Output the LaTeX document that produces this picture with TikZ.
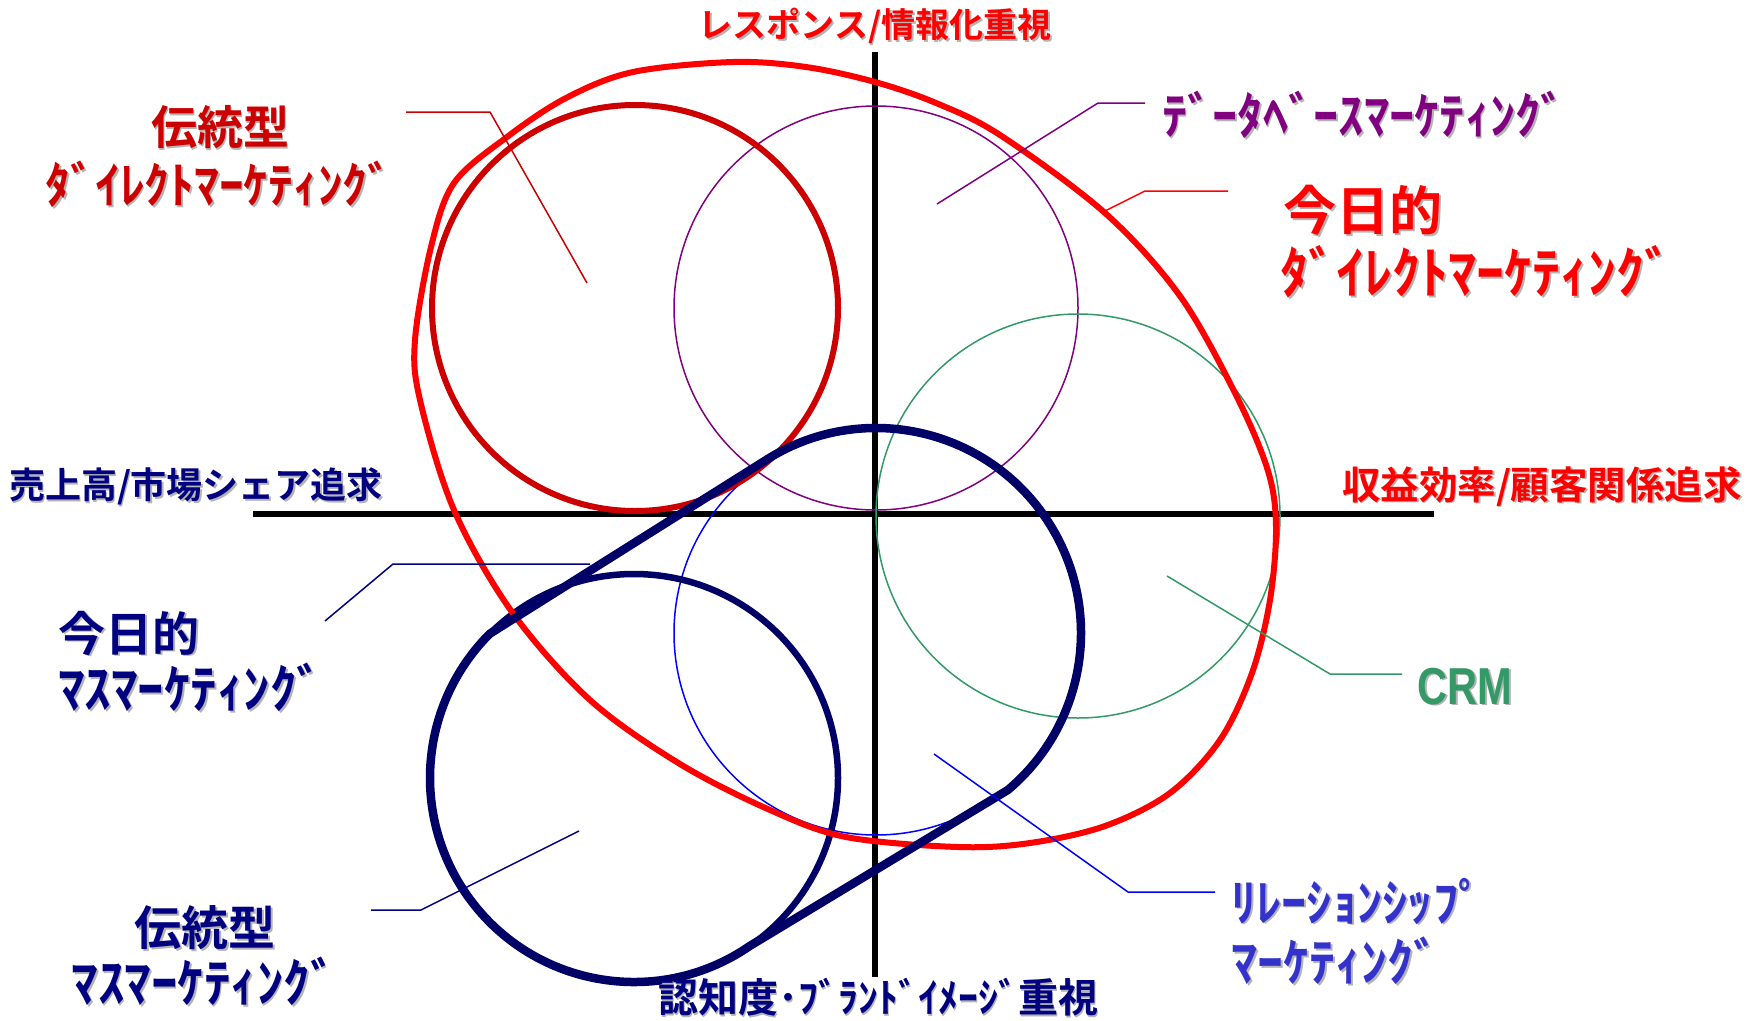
\documentclass[tikz,border=0pt]{standalone}
\usepackage{fontspec}
\newfontfamily\jp{Noto Sans CJK JP}[BoldFont={Noto Sans CJK JP Bold}]
\newfontfamily\crmfont{Liberation Sans}
\usetikzlibrary{calc}
\definecolor{cred}{HTML}{FF0000}
\definecolor{cdred}{HTML}{CC0000}
\definecolor{cpurple}{HTML}{800080}
\definecolor{cgreen}{HTML}{339966}
\definecolor{cblue}{HTML}{0000FF}
\definecolor{crel}{HTML}{3333CC}
\definecolor{cnavy}{HTML}{000066}
\definecolor{cnavyt}{HTML}{000080}
\definecolor{shadowc}{HTML}{B4B4B4}
\newcommand\shd[1]{\leavevmode\rlap{\kern1.8pt\raisebox{-1.8pt}{\color{shadowc}#1}}#1}
\tikzset{
  lbl/.style={inner sep=0pt, font=\jp\bfseries\fontsize{#1}{#1}\selectfont},
  axisline/.style={line width=5.5pt, black},
  thinring/.style={line width=1.5pt},
  leader/.style={line width=1.5pt},
  thickring/.style={line width=6pt},
  belt/.style={line width=8.5pt, cnavy, line join=round},
}
\begin{document}
\begin{tikzpicture}[x=1pt,y=1pt]
\path[use as bounding box, fill=white] (0,0) rectangle (1760,-1020);
% axes
\coordinate (axL) at (253,-514);
\coordinate (axR) at (1434,-514);
\coordinate (axT) at (875,-52);
\coordinate (axB) at (875,-977);
\draw[axisline] (axL) -- (axR);
\draw[axisline] (axT) -- (axB);
% centres
\coordinate (cDR) at (635,-308);
\coordinate (cDB) at (876,-308);
\coordinate (cCR) at (1078,-516);
\coordinate (cRL) at (876,-633);
\coordinate (cMS) at (634,-778);
% thin circles
\draw[thinring, cpurple] (cDB) circle[radius=202];
\draw[thinring, cgreen] (cCR) circle[radius=202];
\draw[thinring, cblue] (cRL) circle[radius=202];
% traditional direct marketing
\draw[thickring, cdred] (cDR) circle[radius=203];
% traditional mass marketing
\draw[line width=6.5pt, cnavy] (cMS) circle[radius=204];
% today's direct marketing
\draw[line width=6pt, cred] plot[smooth cycle, tension=0.55] coordinates {
 (566,-98) (633,-72) (733,-62) (806,-67) (875,-82) (936,-103) (1000,-135)
 (1105,-213) (1180,-296) (1236,-395) (1268,-471) (1276,-527) (1270,-600)
 (1252,-673) (1220,-740) (1170,-793) (1105,-826) (1030,-843) (958,-847)
 (846,-837) (770,-810) (680,-764) (590,-700) (512,-612) (454,-510)
 (420,-400) (415,-340) (431,-247) (454,-183) (507,-137)};
% today's mass marketing (belt)
\draw[belt] ($(cMS)+(135:204)$) -- ($(cRL)+(123:205)$)
  arc[start angle=123, end angle=-50, radius=205]
  -- ($(cMS)+(-55.5:204)$)
  arc[start angle=-55.5, end angle=-225, radius=204] -- cycle;
% labels
\node[lbl=34, text=cred] (top) at (875,-27) {\shd{レスポンス/情報化重視}};
\node[lbl=46, text=cdred] (tdm1) at (220,-128) {\shd{伝統型}};
\node[lbl=49.5, text=cdred] (tdm2) at (219,-185) {\shd{ﾀﾞｲﾚｸﾄﾏｰｹﾃｨﾝｸﾞ}};
\node[lbl=50.5, text=cpurple] (db) at (1364,-116) {\shd{ﾃﾞｰﾀﾍﾞｰｽﾏｰｹﾃｨﾝｸﾞ}};
\node[lbl=53, text=cred, anchor=west] (tdd1) at (1283,-211) {\shd{今日的}};
\node[lbl=56, text=cred, anchor=west] (tdd2) at (1280,-273) {\shd{ﾀﾞｲﾚｸﾄﾏｰｹﾃｨﾝｸﾞ}};
\node[lbl=36, text=cnavyt] (left) at (196,-487) {\shd{売上高/市場シェア追求}};
\node[lbl=38.5, text=cred] (right) at (1542,-487) {\shd{収益効率/顧客関係追求}};
\node[lbl=47, text=cnavyt, anchor=west] (tmm1) at (58,-634) {\shd{今日的}};
\node[lbl=53, text=cnavyt, anchor=west] (tmm2) at (58,-688) {\shd{ﾏｽﾏｰｹﾃｨﾝｸﾞ}};
\node[inner sep=0pt, text=cgreen, font=\crmfont\bfseries\fontsize{52}{52}\selectfont] (crm) at (1465,-687) {\scalebox{0.8}[1]{\shd{CRM}}};
\node[lbl=50.5, text=crel, anchor=west] (rel1) at (1231,-902) {\shd{ﾘﾚｰｼｮﾝｼｯﾌﾟ}};
\node[lbl=52, text=crel, anchor=west] (rel2) at (1231,-962) {\shd{ﾏｰｹﾃｨﾝｸﾞ}};
\node[lbl=47, text=cnavyt] (trm1) at (205,-929) {\shd{伝統型}};
\node[lbl=53, text=cnavyt] (trm2) at (204,-982) {\shd{ﾏｽﾏｰｹﾃｨﾝｸﾞ}};
\node[lbl=40, text=cnavyt] (bottom) at (878,-998) {\shd{認知度･ﾌﾞﾗﾝﾄﾞｲﾒｰｼﾞ重視}};
% leaders
\coordinate (lTDa) at (406,-112); \coordinate (lTDb) at (490,-112); \coordinate (lTDc) at (587,-283);
\draw[leader, cdred] (lTDa) -- (lTDb) -- (lTDc);
\coordinate (lDBa) at (937,-204); \coordinate (lDBb) at (1098,-103); \coordinate (lDBc) at (1145,-103);
\draw[leader, cpurple] (lDBa) -- (lDBb) -- (lDBc);
\coordinate (lTTa) at (1105,-211); \coordinate (lTTb) at (1145,-191); \coordinate (lTTc) at (1228,-191);
\draw[leader, cred] (lTTa) -- (lTTb) -- (lTTc);
\coordinate (lTMa) at (325,-621); \coordinate (lTMb) at (393,-564); \coordinate (lTMc) at (590,-564);
\draw[leader, cnavyt] (lTMa) -- (lTMb) -- (lTMc);
\coordinate (lRMa) at (371,-910); \coordinate (lRMb) at (421,-910); \coordinate (lRMc) at (579,-831);
\draw[leader, cnavyt] (lRMa) -- (lRMb) -- (lRMc);
\coordinate (lRLa) at (934,-754); \coordinate (lRLb) at (1128,-892); \coordinate (lRLc) at (1215,-892);
\draw[leader, cblue] (lRLa) -- (lRLb) -- (lRLc);
\coordinate (lCRa) at (1167,-576); \coordinate (lCRb) at (1330,-674); \coordinate (lCRc) at (1402,-674);
\draw[leader, cgreen] (lCRa) -- (lCRb) -- (lCRc);
\end{tikzpicture}
\end{document}
